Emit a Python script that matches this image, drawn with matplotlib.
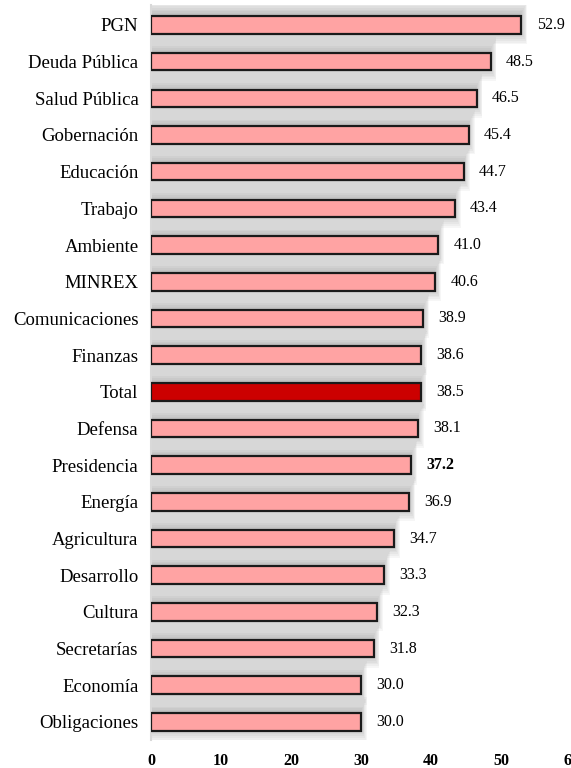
import numpy as np
import matplotlib
matplotlib.use('Agg')
import matplotlib.pyplot as plt

plt.rcParams['font.family'] = ['Liberation Serif', 'DejaVu Serif']

# data (top to bottom)
categories = ['PGN', 'Deuda Pública', 'Salud Pública', 'Gobernación', 'Educación',
              'Trabajo', 'Ambiente', 'MINREX', 'Comunicaciones', 'Finanzas',
              'Total', 'Defensa', 'Presidencia', 'Energía', 'Agricultura',
              'Desarrollo', 'Cultura', 'Secretarías', 'Economía', 'Obligaciones']
values = [52.9, 48.5, 46.5, 45.4, 44.7, 43.4, 41.0, 40.6, 38.9, 38.6,
          38.5, 38.1, 37.2, 36.9, 34.7, 33.3, 32.3, 31.8, 30.0, 30.0]
xticks = [0, 10, 20, 30, 40, 50, 60]

fig = plt.figure(figsize=(5.71, 7.68), dpi=100)
ax = fig.add_axes([151 / 571, 0.0361, 1 - 151 / 571, 0.9577])

y = np.arange(len(categories))
vals = np.array(values)
colors = ['#cc0000' if c == 'Total' else '#ffa3a3' for c in categories]

# soft shadow behind the bars
for k in range(8):
    ax.barh(y - 0.07, vals + 0.12 * k, height=0.5 + 0.1 * k, color='#404040',
            alpha=0.045, lw=0, zorder=1)

ax.barh(y, vals, height=0.48, color=colors, edgecolor='#1a1a1a', linewidth=1.6, zorder=3)

for i, (c, v) in enumerate(zip(categories, values)):
    ax.annotate('%.1f' % v, (v, i), xytext=(11, 0), textcoords='offset points',
                va='center', ha='left', fontsize=11.5,
                fontweight='bold' if c == 'Presidencia' else 'normal')

ax.set_yticks(y)
ax.set_yticklabels(categories, fontsize=13.5)
ax.set_xticks(xticks)
ax.set_xticklabels([str(t) for t in xticks], fontsize=11.5, fontweight='bold')
ax.tick_params(axis='both', length=0)
ax.tick_params(axis='y', pad=9)
ax.tick_params(axis='x', pad=9)
ax.set_xlim(0, 60)
ax.set_ylim(19.5, -0.55)

for s in ['top', 'right', 'bottom']:
    ax.spines[s].set_visible(False)
ax.spines['left'].set_color('#d9d9d9')
ax.spines['left'].set_linewidth(1.5)

fig.savefig('out.png', dpi=100)
